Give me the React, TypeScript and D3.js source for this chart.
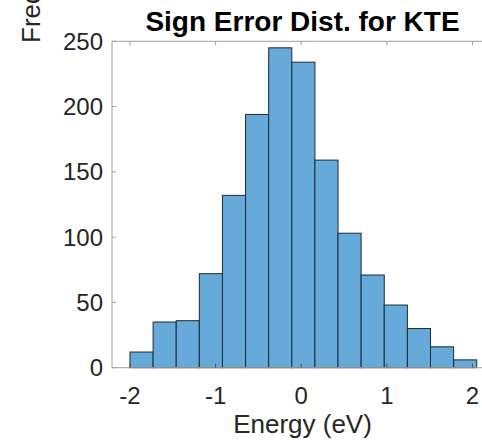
import React from "react";
import * as d3 from "d3";

const binStart = -2.0;
const binWidth = 0.27;
const counts = [12, 35, 36, 72, 132, 194, 245, 234, 159, 103, 71, 48, 30, 16, 6];
const xTicks = [-2, -1, 0, 1, 2];
const yTicks = [0, 50, 100, 150, 200, 250];
const titleText = "Sign Error Dist. for KTE";
const xLabel = "Energy (eV)";
const yLabel = "Frequency";

const W = 482;
const H = 443;
const left = 112;
const right = 493;
const top = 41.3;
const bottom = 367.7;
const font = "'Liberation Sans', Arial, Helvetica, sans-serif";

export default function App() {
  const x = d3.scaleLinear().domain([-2.21, 2.24]).range([left, right]);
  const y = d3.scaleLinear().domain([0, 250]).range([bottom, top]);
  const bins = counts.map((c, i) => ({
    x0: binStart + i * binWidth,
    x1: binStart + (i + 1) * binWidth,
    c,
  }));
  const axisColor = "#a0a0a0";
  const tickLen = 4;
  return (
    <svg
      width={W}
      height={H}
      style={{ position: "absolute", left: 0, top: 0, background: "#fff" }}
    >
      <rect x={0} y={0} width={W} height={H} fill="#fff" />
      {bins.map((b, i) => (
        <rect
          key={i}
          x={x(b.x0)}
          y={y(b.c)}
          width={x(b.x1) - x(b.x0)}
          height={y(0) - y(b.c)}
          fill="#65aad8"
          stroke="#1e2a36"
          strokeWidth={1}
        />
      ))}
      {/* axes box */}
      <line x1={left} x2={right} y1={bottom} y2={bottom} stroke={axisColor} strokeWidth={1} />
      <line x1={left} x2={right} y1={top} y2={top} stroke={axisColor} strokeWidth={1} />
      <line x1={left} x2={left} y1={top} y2={bottom} stroke={axisColor} strokeWidth={1} />
      <line x1={right} x2={right} y1={top} y2={bottom} stroke={axisColor} strokeWidth={1} />
      {xTicks.map((t) => (
        <g key={"xt" + t}>
          <line x1={x(t)} x2={x(t)} y1={bottom} y2={bottom - tickLen} stroke="#555" strokeWidth={1} />
          <line x1={x(t)} x2={x(t)} y1={top} y2={top + tickLen} stroke={axisColor} strokeWidth={1} />
          <text
            x={x(t)}
            y={403.5}
            textAnchor="middle"
            fontFamily={font}
            fontSize={24}
            fill="#262626"
          >
            {t < 0 ? "-" + Math.abs(t) : String(t)}
          </text>
        </g>
      ))}
      {yTicks.map((t) => (
        <g key={"yt" + t}>
          <line x1={left} x2={left + tickLen} y1={y(t)} y2={y(t)} stroke={axisColor} strokeWidth={1} />
          <text
            x={103}
            y={y(t) + 8.5}
            textAnchor="end"
            fontFamily={font}
            fontSize={24}
            fill="#262626"
          >
            {t}
          </text>
        </g>
      ))}
      <text
        x={(left + right) / 2}
        y={31}
        textAnchor="middle"
        fontFamily={font}
        fontSize={28}
        fontWeight="bold"
        fill="#000"
      >
        {titleText}
      </text>
      <text
        x={(left + right) / 2}
        y={433}
        textAnchor="middle"
        fontFamily={font}
        fontSize={26}
        fill="#262626"
      >
        {xLabel}
      </text>
      <text
        transform={`translate(40,43) rotate(-90)`}
        textAnchor="start"
        fontFamily={font}
        fontSize={26}
        fill="#262626"
      >
        {yLabel}
      </text>
    </svg>
  );
}
